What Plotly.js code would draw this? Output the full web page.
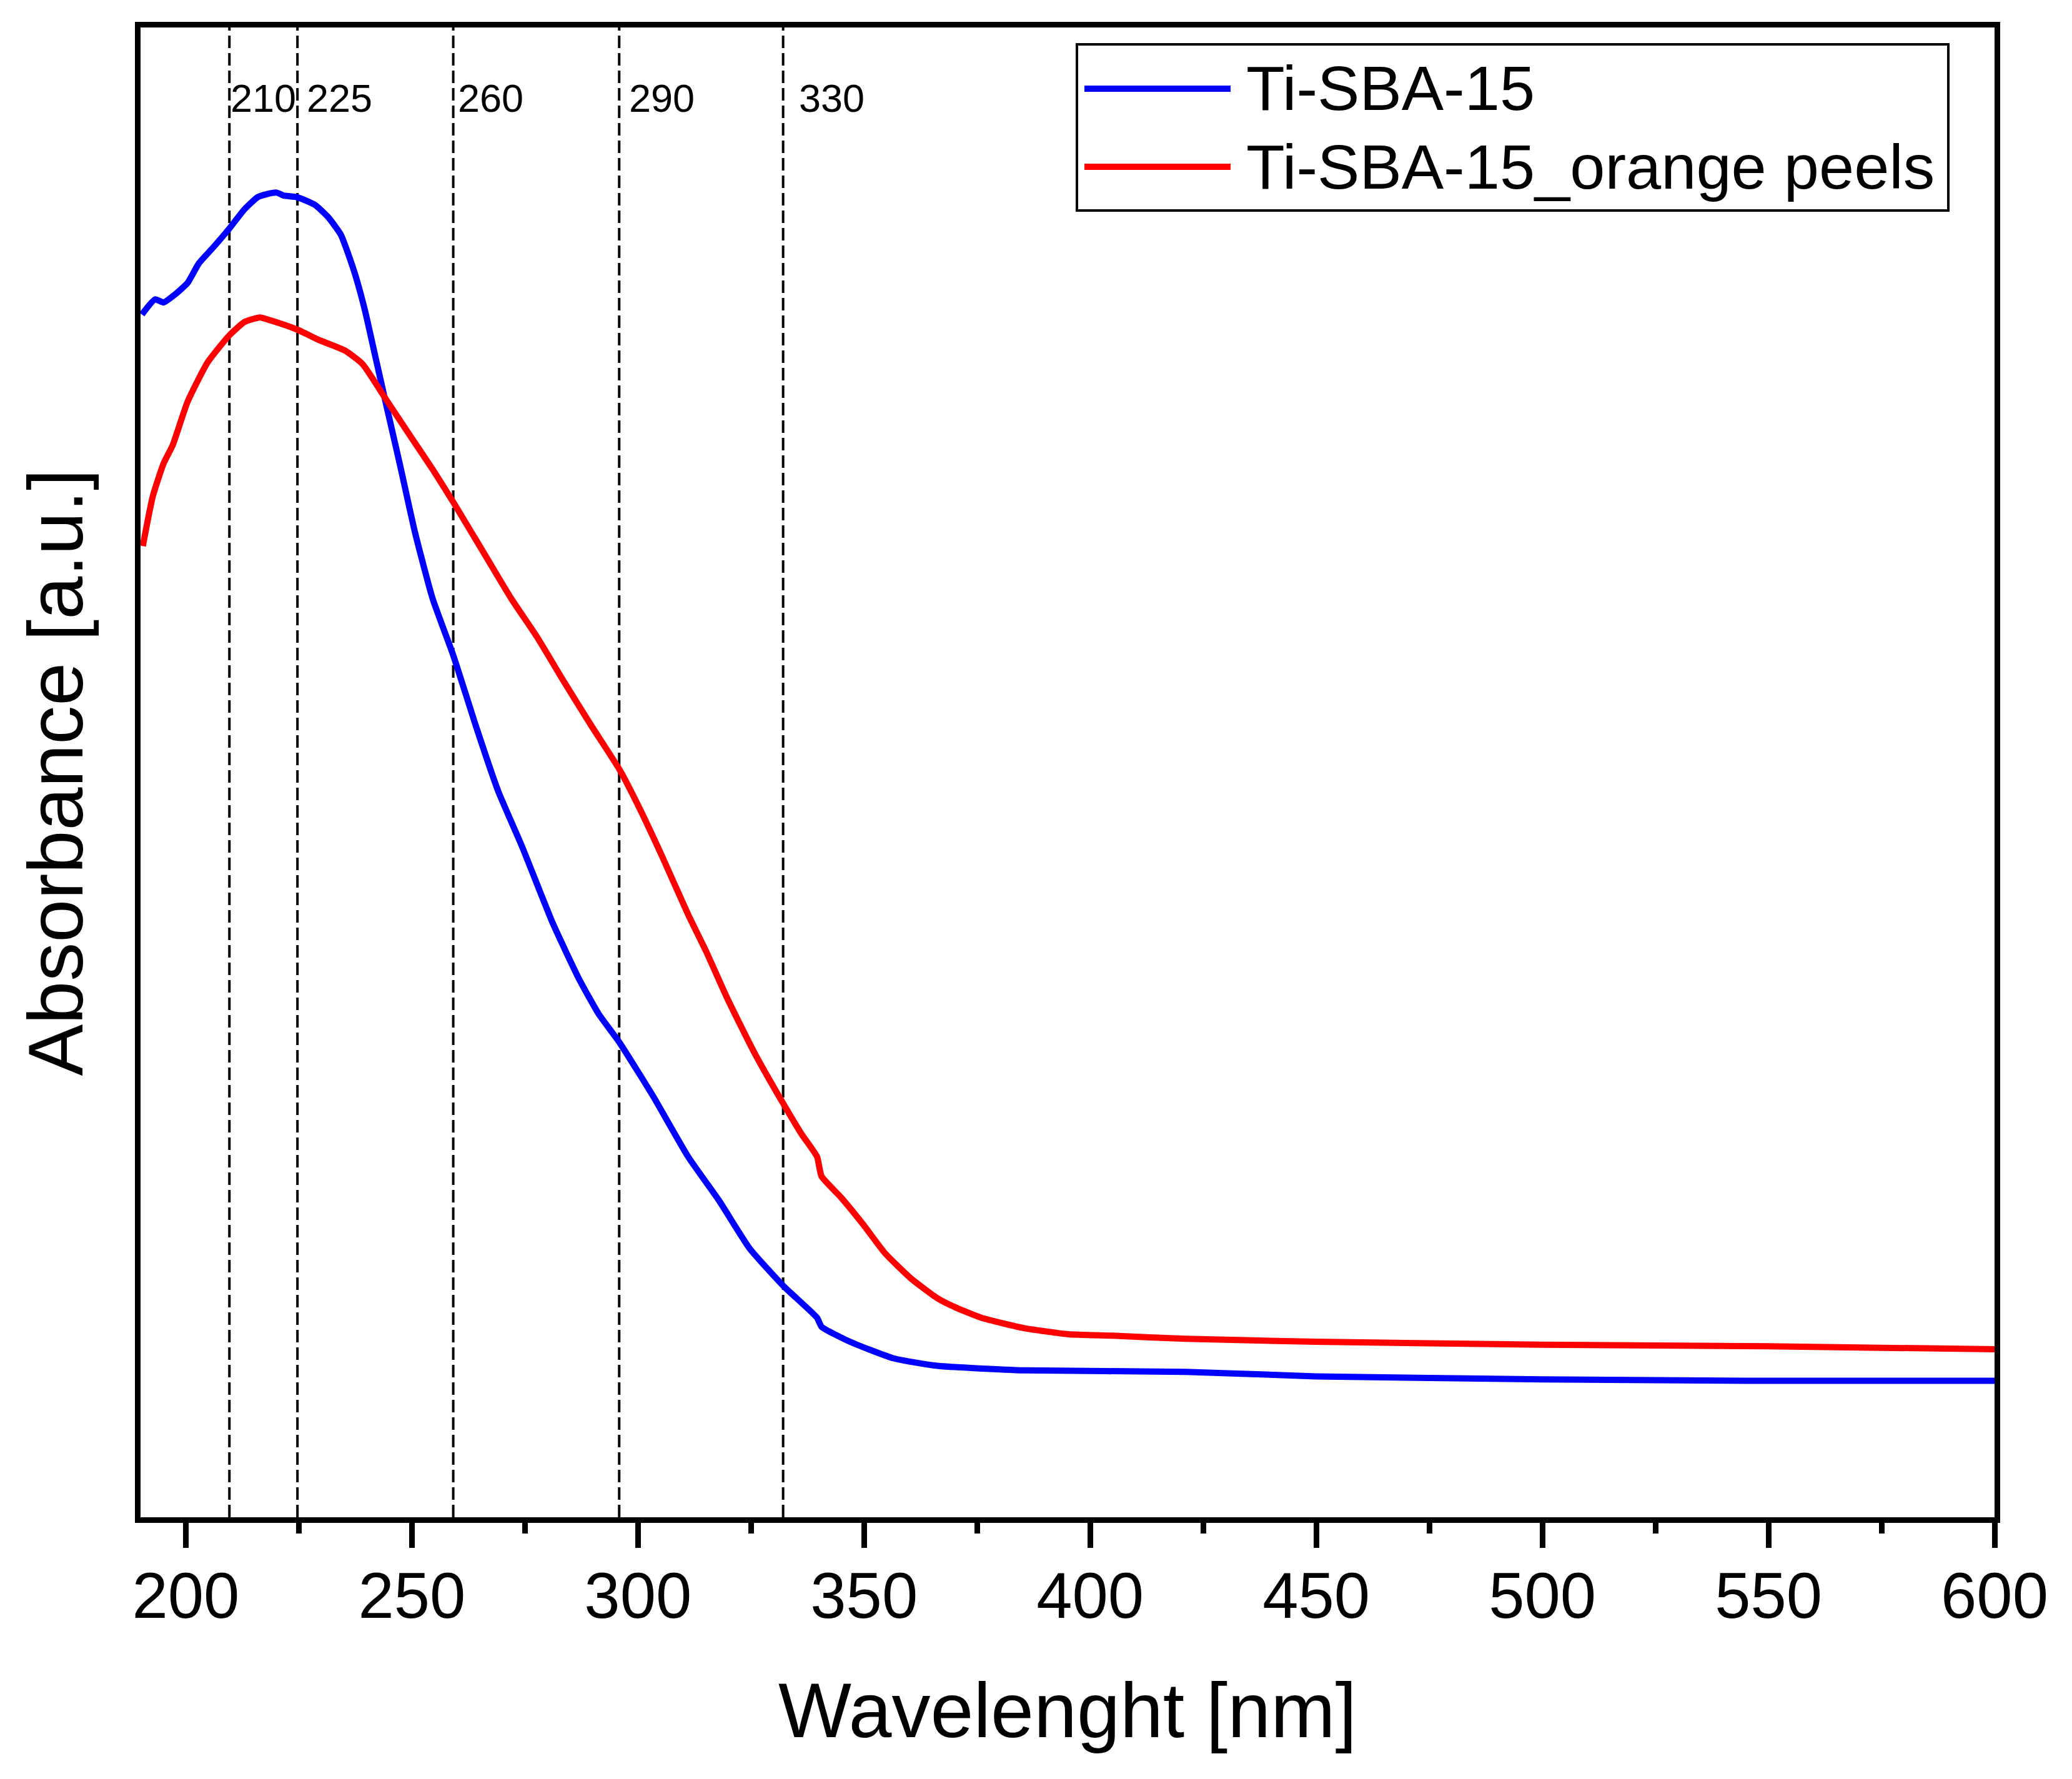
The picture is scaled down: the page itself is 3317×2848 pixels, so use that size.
<!DOCTYPE html>
<html>
<head>
<meta charset="utf-8">
<script src="https://cdn.plot.ly/plotly-3.0.1.min.js"></script>
<style>html,body{margin:0;padding:0;background:#fff}#plot{width:3317px;height:2848px}</style>
</head>
<body>
<div id="plot"></div>
<script>
// Ti-SBA-15 (blue)
const blueX = [190.3,193.2,195.1,197.5,200.4,202.9,206.2,209.6,213.0,215.9,217.9,220.1,221.7,224.6,228.5,231.4,234.3,237.2,239.6,242.0,244.4,247.3,250.7,254.6,259.2,264.2,269.1,274.4,281.2,287.0,291.3,295.9,303.4,311.1,317.9,324.7,332.2,339.6,340.6,346.9,356.5,366.2,385.5,421.1,450,500,550,600];
const blueY = [0.808,0.818,0.816,0.821,0.829,0.842,0.853,0.865,0.878,0.886,0.888,0.889,0.887,0.886,0.881,0.873,0.861,0.837,0.811,0.779,0.747,0.709,0.663,0.619,0.581,0.534,0.491,0.454,0.403,0.366,0.343,0.324,0.288,0.248,0.219,0.187,0.162,0.141,0.135,0.125,0.114,0.109,0.106,0.105,0.102,0.100,0.099,0.099];
// Ti-SBA-15_orange peels (red)
const redX = [190.5,192.7,195.1,197.1,200.4,204.8,209.6,213.0,216.4,218.8,224.6,229.5,235.2,239.1,244.4,249.7,254.6,259.2,266.2,272.0,277.8,283.6,289.6,296.0,300.3,305.3,311.1,315.0,319.8,325.6,332.2,336.2,339.6,340.6,344.9,349.8,354.6,360.4,366.2,370.1,375.9,385.5,395.2,404.9,421.1,450,500,550,600];
const redY = [0.654,0.687,0.709,0.721,0.750,0.776,0.794,0.803,0.806,0.804,0.798,0.791,0.784,0.775,0.751,0.727,0.705,0.683,0.648,0.619,0.593,0.564,0.535,0.505,0.480,0.448,0.409,0.385,0.353,0.318,0.283,0.263,0.248,0.235,0.221,0.203,0.184,0.167,0.154,0.148,0.141,0.134,0.130,0.129,0.127,0.125,0.123,0.122,0.120];
// reference wavelengths (dashed lines) and their labels
const refLineX = [209.65,224.7,259.15,295.85,332.1];
const refLabels = ["210","225","260","290","330"];
const refLabelShift = [0,13,5,14,23];
const seriesNames = ["Ti-SBA-15","Ti-SBA-15_orange peels"];
const seriesColors = ['#0000ff','#ff0000'];
const xTicks = [200,250,300,350,400,450,500,550,600];
const FONT = "Liberation Sans, Arial, sans-serif";

// plot box in page pixels (layout), used to place the legend box
const W = 3317, H = 2848, ML = 225, MR = 124, MT = 44, MB = 419;
const px = x => (x - ML) / (W - ML - MR);
const py = y => (H - MB - y) / (H - MT - MB);

const traces = seriesNames.map((n, i) => ({
  x: i === 0 ? blueX : redX, y: i === 0 ? blueY : redY, name: n, mode: 'lines',
  line: {color: seriesColors[i], width: 10, shape: 'spline', smoothing: 0.5}
}));

const shapes = refLineX.map(v => ({type: 'line', xref: 'x', yref: 'paper', x0: v, x1: v, y0: 0, y1: 1, layer: 'below', line: {color: '#000', width: 4, dash: '20px,8px'}}));
// legend box and line samples
const legRowY = [142, 267];
shapes.push({type: 'rect', xref: 'paper', yref: 'paper', x0: px(1724), x1: px(3119), y0: py(337), y1: py(71), line: {color: '#000', width: 4}, fillcolor: '#fff', layer: 'above'});
seriesNames.forEach((n, i) => shapes.push({type: 'line', xref: 'paper', yref: 'paper', x0: px(1736), x1: px(1970), y0: py(legRowY[i]), y1: py(legRowY[i]), line: {color: seriesColors[i], width: 10}, layer: 'above'}));

const annotations = refLineX.map((v, i) => ({x: v, y: 0.9527, xref: 'x', yref: 'paper', text: refLabels[i], showarrow: false, xanchor: 'left', yanchor: 'middle', xshift: refLabelShift[i], font: {family: FONT, size: 63, color: '#000'}}));
seriesNames.forEach((n, i) => annotations.push({x: px(1993), y: py(legRowY[i] - 0.5), xref: 'paper', yref: 'paper', text: n, showarrow: false, xanchor: 'left', yanchor: 'middle', font: {family: FONT, size: 101, color: '#000'}}));

const layout = {
  width: W, height: H,
  margin: {l: ML, r: MR, t: MT, b: MB, pad: 0},
  paper_bgcolor: '#fff', plot_bgcolor: '#fff',
  font: {family: FONT, color: '#000'},
  showlegend: false,
  xaxis: {range: [190, 600], tickvals: xTicks, ticktext: xTicks.map(String), showgrid: false, zeroline: false, showline: true, linecolor: '#000', linewidth: 9, mirror: true,
    ticks: 'outside', ticklen: 40, tickwidth: 9, tickcolor: '#000',
    minor: {ticks: 'outside', ticklen: 17, tickwidth: 9, tickcolor: '#000', dtick: 25, tick0: 200, showgrid: false},
    tickfont: {family: FONT, size: 103, color: '#000'}, ticklabelstandoff: -12,
    title: {text: 'Wavelenght [nm]', font: {family: FONT, size: 124, color: '#000'}, standoff: 87}},
  yaxis: {range: [0.0083, 0.9988], showgrid: false, zeroline: false, showline: true, linecolor: '#000', linewidth: 9, mirror: true, ticks: '', showticklabels: false,
    title: {text: 'Absorbance [a.u.]', font: {family: FONT, size: 124, color: '#000'}, standoff: 45}},
  shapes: shapes, annotations: annotations
};
Plotly.newPlot('plot', traces, layout, {displayModeBar: false, staticPlot: true});
</script>
</body>
</html>
